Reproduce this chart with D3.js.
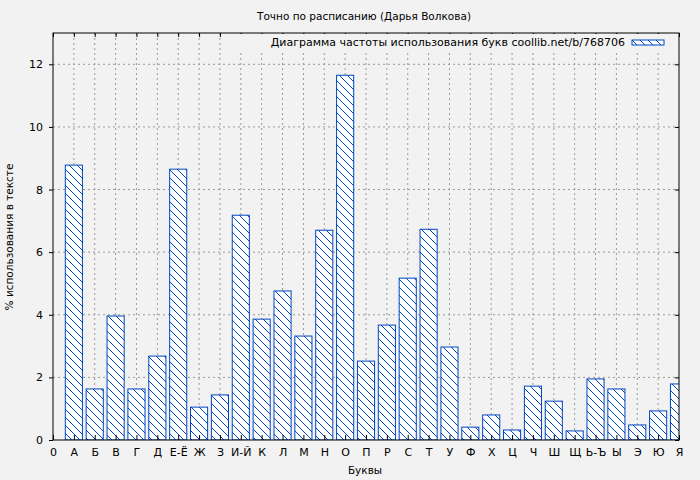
<!DOCTYPE html>
<html><head><meta charset="utf-8">
<script src="https://cdn.jsdelivr.net/npm/d3@7"></script>
<style>body{margin:0;background:#f2f2f2}</style>
</head><body>
<script>
const letters = ["А","Б","В","Г","Д","Е-Ё","Ж","З","И-Й","К","Л","М","Н","О","П","Р","С","Т","У","Ф","Х","Ц","Ч","Ш","Щ","Ь-Ъ","Ы","Э","Ю","Я"];
const percents = [8.78,1.63,3.96,1.63,2.68,8.65,1.05,1.44,7.18,3.86,4.76,3.32,6.70,11.65,2.52,3.67,5.17,6.73,2.97,0.41,0.80,0.32,1.72,1.24,0.29,1.95,1.63,0.48,0.93,1.79];
const yTicks = [0,2,4,6,8,10,12];
const xTickLabels = ["0"].concat(letters);

const W = 700, H = 480;
const m = {left: 53, right: 21, top: 33, bottom: 40};
const blue = "#0047c2";
const font = "DejaVu Sans, sans-serif";

const svg = d3.select("body").append("svg").attr("width", W).attr("height", H);
svg.append("rect").attr("width", W).attr("height", H).attr("fill", "#f2f2f2");

const defs = svg.append("defs");
const pat = defs.append("pattern").attr("id", "hatch").attr("patternUnits", "userSpaceOnUse")
  .attr("width", 8).attr("height", 8);
pat.append("rect").attr("width", 8).attr("height", 8).attr("fill", "#fff");
pat.append("path").attr("d", "M-2,-2L10,10M-2,6L2,10M6,-2L10,2").attr("stroke", blue).attr("stroke-width", 1);
defs.append("clipPath").attr("id", "clip").append("rect")
  .attr("x", m.left).attr("y", m.top).attr("width", W - m.left - m.right).attr("height", H - m.top - m.bottom);

const x = d3.scaleLinear().domain([0, 30]).range([m.left, W - m.right]);
const y = d3.scaleLinear().domain([0, 13]).range([H - m.bottom, m.top]);

// grid
const g = svg.append("g").attr("stroke", "#999").attr("stroke-dasharray", "2,3");
d3.range(1, 30).forEach(i => g.append("line").attr("x1", x(i)).attr("x2", x(i)).attr("y1", y(0)).attr("y2", y(13)));
yTicks.slice(1).forEach(v => g.append("line").attr("x1", x(0)).attr("x2", x(30)).attr("y1", y(v)).attr("y2", y(v)));

// bars
const bw = x(0.82) - x(0);
svg.append("g").attr("clip-path", "url(#clip)").selectAll("rect").data(percents).join("rect")
  .attr("x", (d, i) => x(i + 1) - bw / 2).attr("width", bw)
  .attr("y", d => y(d)).attr("height", d => y(0) - y(d))
  .attr("fill", "url(#hatch)").attr("stroke", blue).attr("stroke-width", 1);

// axes
const ax = svg.append("g");
ax.append("g").attr("transform", `translate(0,${y(0)})`)
  .call(d3.axisBottom(x).tickValues(d3.range(0, 31)).tickFormat(i => xTickLabels[i]).tickSize(-5).tickPadding(8));
ax.append("g").attr("transform", `translate(${x(0)},0)`)
  .call(d3.axisLeft(y).tickValues(yTicks).tickSize(4).tickPadding(6));
ax.append("g").attr("transform", `translate(${x(30)},0)`)
  .call(d3.axisRight(y).tickValues(yTicks).tickSize(-4).tickFormat(""));
ax.append("g").attr("transform", `translate(0,${y(13)})`)
  .call(d3.axisTop(x).tickValues(d3.range(0, 31)).tickSize(-4).tickFormat(""));
ax.selectAll(".domain").remove();
ax.selectAll("text").attr("font-family", font).attr("font-size", 11).attr("fill", "#000");
ax.selectAll("line").attr("stroke", "#000");
svg.append("rect").attr("x", m.left).attr("y", m.top).attr("width", x(30) - m.left).attr("height", y(0) - m.top)
  .attr("fill", "none").attr("stroke", "#000");

// labels
svg.append("text").attr("x", 364).attr("y", 20).attr("text-anchor", "middle")
  .attr("font-family", font).attr("font-size", 10.5).text("Точно по расписанию (Дарья Волкова)");
svg.append("text").attr("x", 365).attr("y", 474).attr("text-anchor", "middle")
  .attr("font-family", font).attr("font-size", 10.5).text("Буквы");
svg.append("text").attr("transform", "translate(13,237) rotate(-90)").attr("text-anchor", "middle")
  .attr("font-family", font).attr("font-size", 10.5).text("% использования в тексте");

// legend
svg.append("rect").attr("x", 240).attr("y", 34).attr("width", 438).attr("height", 18).attr("fill", "#f2f2f2");
svg.append("text").attr("x", 625).attr("y", 46).attr("text-anchor", "end")
  .attr("font-family", font).attr("font-size", 11).text("Диаграмма частоты использования букв coollib.net/b/768706");
svg.append("rect").attr("x", 632).attr("y", 40).attr("width", 32).attr("height", 5)
  .attr("fill", "url(#hatch)").attr("stroke", blue);
</script>
</body></html>
